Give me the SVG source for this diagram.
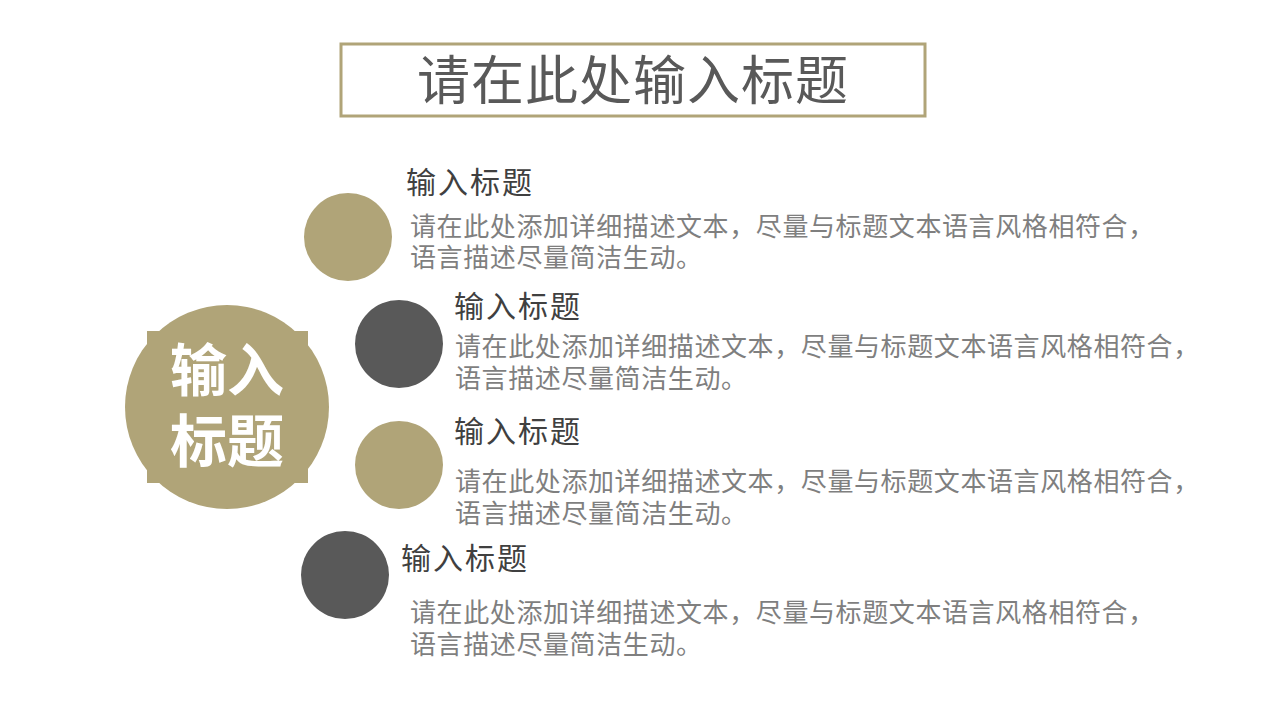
<svg xmlns="http://www.w3.org/2000/svg" width="1280" height="720" viewBox="0 0 1280 720">
<style>
text{font-family:"Noto Sans CJK SC","Noto Sans CJK JP",sans-serif;}
.gold{fill:#b0a478;}
.dark{fill:#595959;}
.head{font-size:30px;fill:#404040;letter-spacing:2px;}
.body{font-size:26px;fill:#7f7f7f;letter-spacing:0.6px;}
.big{font-size:57px;fill:#ffffff;font-weight:bold;text-anchor:middle;}
</style>
<rect width="1280" height="720" fill="#ffffff"/>
<g id="title">
<rect x="341" y="44" width="584" height="72" fill="none" stroke="#b0a478" stroke-width="3"/>
<text x="633" y="100" font-size="53" fill="#595959" text-anchor="middle" letter-spacing="1">请在此处输入标题</text>
</g>
<g id="center">
<circle class="gold" cx="227" cy="407" r="102"/>
<rect class="gold" x="147" y="331" width="161" height="152"/>
<text class="big" x="227" y="391">输入</text>
<text class="big" x="227" y="462">标题</text>
</g>
<g id="connectors"></g>
<g id="item1">
<circle class="gold" cx="348" cy="237" r="44"/>
<text class="head" x="406" y="193">输入标题</text>
<text class="body" x="410" y="236">请在此处添加详细描述文本，尽量与标题文本语言风格相符合，</text>
<text class="body" x="410" y="267">语言描述尽量简洁生动。</text>
</g>
<g id="item2">
<circle class="dark" cx="399" cy="344" r="44"/>
<text class="head" x="454" y="317">输入标题</text>
<text class="body" x="455" y="356">请在此处添加详细描述文本，尽量与标题文本语言风格相符合，</text>
<text class="body" x="455" y="388">语言描述尽量简洁生动。</text>
</g>
<g id="item3">
<circle class="gold" cx="399" cy="465" r="44"/>
<text class="head" x="454" y="442">输入标题</text>
<text class="body" x="455" y="491">请在此处添加详细描述文本，尽量与标题文本语言风格相符合，</text>
<text class="body" x="455" y="523">语言描述尽量简洁生动。</text>
</g>
<g id="item4">
<circle class="dark" cx="345" cy="575" r="44"/>
<text class="head" x="401" y="569">输入标题</text>
<text class="body" x="410" y="622">请在此处添加详细描述文本，尽量与标题文本语言风格相符合，</text>
<text class="body" x="410" y="654">语言描述尽量简洁生动。</text>
</g>
</svg>
